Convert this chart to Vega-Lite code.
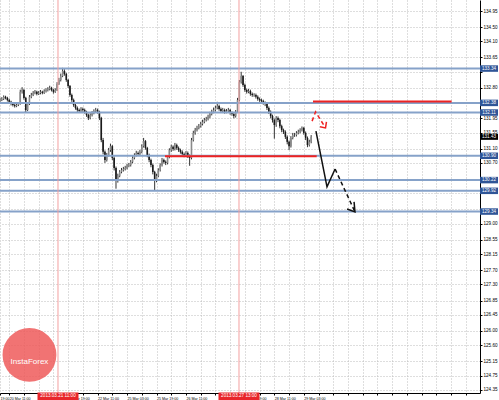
{
"$schema":"https://vega.github.io/schema/vega-lite/v6.json",
"width":480,"height":393,
"autosize":{"type":"none"},
"padding":{"left":0,"top":0,"right":19,"bottom":7},
"background":"white",
"config":{"view":{"stroke":null},"axis":{"labelFont":"Liberation Sans","labelFontSize":4.6,"labelColor":"#000","domainColor":"#000","tickColor":"#000","gridColor":"#bdbdbd","gridDash":[1,2],"gridWidth":1}},
"datasets":{
"candles":[
{"t":0,"o":132.43,"h":132.52,"l":132.40,"c":132.46},{"t":1,"o":132.46,"h":132.54,"l":132.43,"c":132.49},{"t":2,"o":132.49,"h":132.59,"l":132.46,"c":132.55},{"t":3,"o":132.55,"h":132.58,"l":132.48,"c":132.52},{"t":4,"o":132.52,"h":132.55,"l":132.42,"c":132.46},{"t":5,"o":132.46,"h":132.50,"l":132.37,"c":132.41},{"t":6,"o":132.41,"h":132.44,"l":132.31,"c":132.35},{"t":7,"o":132.35,"h":132.39,"l":132.28,"c":132.32},{"t":8,"o":132.32,"h":132.36,"l":132.25,"c":132.29},{"t":9,"o":132.29,"h":132.37,"l":132.26,"c":132.32},
{"t":10,"o":132.32,"h":132.40,"l":132.29,"c":132.35},{"t":11,"o":132.35,"h":132.75,"l":132.33,"c":132.69},{"t":12,"o":132.69,"h":132.82,"l":132.64,"c":132.74},{"t":13,"o":132.74,"h":132.77,"l":132.47,"c":132.52},{"t":14,"o":132.52,"h":132.55,"l":132.12,"c":132.18},{"t":15,"o":132.18,"h":132.40,"l":132.15,"c":132.35},{"t":16,"o":132.35,"h":132.60,"l":132.32,"c":132.55},{"t":17,"o":132.55,"h":132.66,"l":132.51,"c":132.60},{"t":18,"o":132.60,"h":132.71,"l":132.57,"c":132.66},{"t":19,"o":132.66,"h":132.74,"l":132.62,"c":132.69},
{"t":20,"o":132.69,"h":132.72,"l":132.59,"c":132.63},{"t":21,"o":132.63,"h":132.71,"l":132.60,"c":132.66},{"t":22,"o":132.66,"h":132.74,"l":132.62,"c":132.69},{"t":23,"o":132.69,"h":132.72,"l":132.62,"c":132.66},{"t":24,"o":132.66,"h":132.76,"l":132.63,"c":132.71},{"t":25,"o":132.71,"h":132.79,"l":132.67,"c":132.74},{"t":26,"o":132.74,"h":132.82,"l":132.70,"c":132.77},{"t":27,"o":132.77,"h":132.86,"l":132.73,"c":132.80},{"t":28,"o":132.80,"h":132.83,"l":132.70,"c":132.74},{"t":29,"o":132.74,"h":132.77,"l":132.64,"c":132.69},
{"t":30,"o":132.69,"h":132.79,"l":132.66,"c":132.74},{"t":31,"o":132.74,"h":132.96,"l":132.71,"c":132.91},{"t":32,"o":132.91,"h":133.08,"l":132.88,"c":133.02},{"t":33,"o":133.02,"h":133.20,"l":132.98,"c":133.13},{"t":34,"o":133.13,"h":133.36,"l":133.10,"c":133.27},{"t":35,"o":133.27,"h":133.32,"l":133.14,"c":133.19},{"t":36,"o":133.19,"h":133.22,"l":132.97,"c":133.02},{"t":37,"o":133.02,"h":133.05,"l":132.80,"c":132.85},{"t":38,"o":132.85,"h":132.88,"l":132.55,"c":132.60},{"t":39,"o":132.60,"h":132.64,"l":132.41,"c":132.46},
{"t":40,"o":132.46,"h":132.50,"l":132.27,"c":132.32},{"t":41,"o":132.32,"h":132.36,"l":132.19,"c":132.24},{"t":42,"o":132.24,"h":132.28,"l":132.13,"c":132.18},{"t":43,"o":132.18,"h":132.22,"l":132.10,"c":132.15},{"t":44,"o":132.15,"h":132.26,"l":132.11,"c":132.21},{"t":45,"o":132.21,"h":132.25,"l":132.13,"c":132.18},{"t":46,"o":132.18,"h":132.22,"l":132.08,"c":132.13},{"t":47,"o":132.13,"h":132.16,"l":131.99,"c":132.04},{"t":48,"o":132.04,"h":132.08,"l":131.90,"c":131.96},{"t":49,"o":131.96,"h":132.09,"l":131.92,"c":132.04},
{"t":50,"o":132.04,"h":132.15,"l":132.00,"c":132.10},{"t":51,"o":132.10,"h":132.20,"l":132.06,"c":132.15},{"t":52,"o":132.15,"h":132.24,"l":132.11,"c":132.18},{"t":53,"o":132.18,"h":132.22,"l":132.08,"c":132.13},{"t":54,"o":132.13,"h":132.16,"l":131.90,"c":131.96},{"t":55,"o":131.96,"h":131.99,"l":131.28,"c":131.34},{"t":56,"o":131.34,"h":131.40,"l":130.94,"c":131.01},{"t":57,"o":131.01,"h":131.05,"l":130.70,"c":130.78},{"t":58,"o":130.78,"h":130.98,"l":130.74,"c":130.92},{"t":59,"o":130.92,"h":131.12,"l":130.88,"c":131.06},
{"t":60,"o":131.06,"h":131.24,"l":131.01,"c":131.17},{"t":61,"o":131.17,"h":131.20,"l":130.78,"c":130.84},{"t":62,"o":130.84,"h":130.88,"l":130.49,"c":130.56},{"t":63,"o":130.56,"h":130.60,"l":129.98,"c":130.22},{"t":64,"o":130.22,"h":130.40,"l":130.15,"c":130.34},{"t":65,"o":130.34,"h":130.50,"l":130.30,"c":130.45},{"t":66,"o":130.45,"h":130.56,"l":130.41,"c":130.50},{"t":67,"o":130.50,"h":130.59,"l":130.46,"c":130.53},{"t":68,"o":130.53,"h":130.62,"l":130.49,"c":130.56},{"t":69,"o":130.56,"h":130.67,"l":130.52,"c":130.62},
{"t":70,"o":130.62,"h":130.70,"l":130.58,"c":130.64},{"t":71,"o":130.64,"h":130.78,"l":130.60,"c":130.73},{"t":72,"o":130.73,"h":130.89,"l":130.69,"c":130.84},{"t":73,"o":130.84,"h":130.97,"l":130.80,"c":130.92},{"t":74,"o":130.92,"h":131.04,"l":130.88,"c":130.98},{"t":75,"o":130.98,"h":131.02,"l":130.90,"c":130.95},{"t":76,"o":130.95,"h":131.07,"l":130.91,"c":131.01},{"t":77,"o":131.01,"h":131.22,"l":130.97,"c":131.17},{"t":78,"o":131.17,"h":131.40,"l":131.13,"c":131.31},{"t":79,"o":131.31,"h":131.34,"l":131.07,"c":131.12},
{"t":80,"o":131.12,"h":131.15,"l":130.86,"c":130.92},{"t":81,"o":130.92,"h":130.96,"l":130.72,"c":130.78},{"t":82,"o":130.78,"h":130.82,"l":130.58,"c":130.64},{"t":83,"o":130.64,"h":130.68,"l":130.38,"c":130.45},{"t":84,"o":130.45,"h":130.48,"l":129.94,"c":130.22},{"t":85,"o":130.22,"h":130.40,"l":130.16,"c":130.34},{"t":86,"o":130.34,"h":130.55,"l":130.30,"c":130.50},{"t":87,"o":130.50,"h":130.69,"l":130.46,"c":130.64},{"t":88,"o":130.64,"h":130.84,"l":130.60,"c":130.78},{"t":89,"o":130.78,"h":130.82,"l":130.68,"c":130.73},
{"t":90,"o":130.73,"h":130.77,"l":130.64,"c":130.70},{"t":91,"o":130.70,"h":130.92,"l":130.66,"c":130.87},{"t":92,"o":130.87,"h":131.11,"l":130.83,"c":131.06},{"t":93,"o":131.06,"h":131.21,"l":131.01,"c":131.15},{"t":94,"o":131.15,"h":131.19,"l":131.04,"c":131.09},{"t":95,"o":131.09,"h":131.26,"l":131.05,"c":131.20},{"t":96,"o":131.20,"h":131.24,"l":131.07,"c":131.12},{"t":97,"o":131.12,"h":131.16,"l":131.01,"c":131.06},{"t":98,"o":131.06,"h":131.10,"l":130.96,"c":131.01},{"t":99,"o":131.01,"h":131.05,"l":130.90,"c":130.95},
{"t":100,"o":130.95,"h":130.99,"l":130.86,"c":130.92},{"t":101,"o":130.92,"h":131.03,"l":130.88,"c":130.98},{"t":102,"o":130.98,"h":131.02,"l":130.84,"c":130.90},{"t":103,"o":130.90,"h":130.94,"l":130.62,"c":130.84},{"t":104,"o":130.84,"h":131.40,"l":130.80,"c":131.34},{"t":105,"o":131.34,"h":131.60,"l":131.30,"c":131.54},{"t":106,"o":131.54,"h":131.68,"l":131.49,"c":131.62},{"t":107,"o":131.62,"h":131.74,"l":131.58,"c":131.68},{"t":108,"o":131.68,"h":131.79,"l":131.64,"c":131.73},{"t":109,"o":131.73,"h":131.85,"l":131.69,"c":131.79},
{"t":110,"o":131.79,"h":131.91,"l":131.75,"c":131.85},{"t":111,"o":131.85,"h":131.96,"l":131.81,"c":131.90},{"t":112,"o":131.90,"h":131.99,"l":131.86,"c":131.93},{"t":113,"o":131.93,"h":132.05,"l":131.89,"c":131.99},{"t":114,"o":131.99,"h":132.13,"l":131.95,"c":132.07},{"t":115,"o":132.07,"h":132.19,"l":132.03,"c":132.13},{"t":116,"o":132.13,"h":132.25,"l":132.09,"c":132.18},{"t":117,"o":132.18,"h":132.30,"l":132.14,"c":132.24},{"t":118,"o":132.24,"h":132.41,"l":132.20,"c":132.29},{"t":119,"o":132.29,"h":132.33,"l":132.16,"c":132.21},
{"t":120,"o":132.21,"h":132.25,"l":132.10,"c":132.15},{"t":121,"o":132.15,"h":132.24,"l":132.11,"c":132.18},{"t":122,"o":132.18,"h":132.22,"l":132.08,"c":132.13},{"t":123,"o":132.13,"h":132.21,"l":132.09,"c":132.15},{"t":124,"o":132.15,"h":132.24,"l":132.11,"c":132.18},{"t":125,"o":132.18,"h":132.21,"l":132.05,"c":132.10},{"t":126,"o":132.10,"h":132.14,"l":132.02,"c":132.07},{"t":127,"o":132.07,"h":132.11,"l":131.95,"c":132.01},{"t":128,"o":132.01,"h":132.18,"l":131.97,"c":132.13},{"t":129,"o":132.13,"h":132.52,"l":132.10,"c":132.46},
{"t":130,"o":132.46,"h":133.02,"l":132.42,"c":132.96},{"t":131,"o":132.96,"h":133.25,"l":132.92,"c":133.13},{"t":132,"o":133.13,"h":133.16,"l":132.83,"c":132.88},{"t":133,"o":132.88,"h":132.92,"l":132.69,"c":132.74},{"t":134,"o":132.74,"h":132.78,"l":132.64,"c":132.69},{"t":135,"o":132.69,"h":132.77,"l":132.65,"c":132.71},{"t":136,"o":132.71,"h":132.75,"l":132.58,"c":132.63},{"t":137,"o":132.63,"h":132.67,"l":132.55,"c":132.60},{"t":138,"o":132.60,"h":132.65,"l":132.55,"c":132.60},{"t":139,"o":132.60,"h":132.64,"l":132.50,"c":132.55},
{"t":140,"o":132.55,"h":132.59,"l":132.44,"c":132.49},{"t":141,"o":132.49,"h":132.53,"l":132.41,"c":132.46},{"t":142,"o":132.46,"h":132.50,"l":132.38,"c":132.43},{"t":143,"o":132.43,"h":132.47,"l":132.33,"c":132.38},{"t":144,"o":132.38,"h":132.42,"l":132.29,"c":132.35},{"t":145,"o":132.35,"h":132.39,"l":132.18,"c":132.24},{"t":146,"o":132.24,"h":132.28,"l":132.07,"c":132.13},{"t":147,"o":132.13,"h":132.17,"l":131.95,"c":132.01},{"t":148,"o":132.01,"h":132.05,"l":131.83,"c":131.90},{"t":149,"o":131.90,"h":131.94,"l":131.38,"c":131.76},
{"t":150,"o":131.76,"h":132.01,"l":131.71,"c":131.96},{"t":151,"o":131.96,"h":132.00,"l":131.84,"c":131.90},{"t":152,"o":131.90,"h":131.94,"l":131.67,"c":131.73},{"t":153,"o":131.73,"h":131.77,"l":131.56,"c":131.62},{"t":154,"o":131.62,"h":131.66,"l":131.51,"c":131.57},{"t":155,"o":131.57,"h":131.61,"l":131.37,"c":131.43},{"t":156,"o":131.43,"h":131.47,"l":131.22,"c":131.29},{"t":157,"o":131.29,"h":131.33,"l":131.06,"c":131.17},{"t":158,"o":131.17,"h":131.45,"l":131.13,"c":131.40},{"t":159,"o":131.40,"h":131.54,"l":131.36,"c":131.48},
{"t":160,"o":131.48,"h":131.54,"l":131.43,"c":131.48},{"t":161,"o":131.48,"h":131.59,"l":131.44,"c":131.54},{"t":162,"o":131.54,"h":131.63,"l":131.50,"c":131.57},{"t":163,"o":131.57,"h":131.67,"l":131.53,"c":131.62},{"t":164,"o":131.62,"h":131.72,"l":131.58,"c":131.68},{"t":165,"o":131.68,"h":131.71,"l":131.49,"c":131.54},{"t":166,"o":131.54,"h":131.58,"l":131.34,"c":131.40},{"t":167,"o":131.40,"h":131.44,"l":131.14,"c":131.20},{"t":168,"o":131.20,"h":131.35,"l":131.16,"c":131.29},{"t":169,"o":131.29,"h":131.48,"l":131.25,"c":131.43}
],
"levels":[{"p":133.34},{"p":132.38},{"p":132.11},{"p":130.90},{"p":130.22},{"p":129.92},{"p":129.34}],
"redlevels":[{"t1":170,"t2":245.3,"p":132.42},{"t1":89.6,"t2":172,"p":130.89}],
"vlines":[{"t":31.5,"label":"2013.03.21 11:00"},{"t":129.8,"label":"2013.03.27 13:00"}],
"paths":[
{"seg":"redDash","k":0,"t":169.5,"p":131.87},{"seg":"redDash","k":1,"t":171.4,"p":132.13},{"seg":"redDash","k":2,"t":176.8,"p":131.68},
{"seg":"redHead","k":0,"t":173.8,"p":131.71},{"seg":"redHead","k":1,"t":176.8,"p":131.68},{"seg":"redHead","k":2,"t":177.3,"p":131.85},
{"seg":"blackSolid","k":0,"t":171.6,"p":131.59},{"seg":"blackSolid","k":1,"t":177.6,"p":130.03},{"seg":"blackSolid","k":2,"t":182.0,"p":130.53},
{"seg":"blackDash","k":0,"t":182.0,"p":130.53},{"seg":"blackDash","k":1,"t":192.8,"p":129.33},
{"seg":"blackHead","k":0,"t":188.5,"p":129.41},{"seg":"blackHead","k":1,"t":192.8,"p":129.33},{"seg":"blackHead","k":2,"t":192.3,"p":129.61}
],
"current":[{"p":131.43}]
},
"layer":[
{"data":{"name":"candles"},"mark":{"type":"rule","strokeWidth":1,"color":"#333"},
 "encoding":{
  "x":{"field":"t","type":"quantitative","scale":{"domain":[0,260.7],"nice":false,"zero":false},
   "axis":{"title":null,"orient":"bottom","tickCount":1000,"values":[0,5,13,21,29,37,45,53,61,69,77,85,93,101,109,117,125,133,141,149,157,165,173,181,189,197,205,213,221,229,237,245,253],
    "labelExpr":"datum.value==0?'19:00':datum.value==5?'20 Mar 11:00':datum.value==37?'21 Mar 19:00':datum.value==53?'22 Mar 11:00':datum.value==69?'25 Mar 03:00':datum.value==85?'25 Mar 19:00':datum.value==101?'26 Mar 11:00':datum.value==133?'27 Mar 19:00':datum.value==149?'28 Mar 11:00':datum.value==165?'29 Mar 03:00':''",
    "labelFontSize":3.6,"labelAlign":"left","labelDx":1,"labelPadding":1.5,"tickSize":2,"labelOverlap":false,"labelBound":false,"labelFlush":false,"grid":true,"domainWidth":1}},
  "y":{"field":"l","type":"quantitative","scale":{"domain":[124.265,135.258],"nice":false,"zero":false},
   "axis":{"title":null,"orient":"right","tickCount":1000,"values":[134.95,134.5,134.1,133.65,133.25,132.8,132.4,131.95,131.55,131.1,130.7,130.25,129.85,129.4,129.0,128.55,128.15,127.7,127.3,126.85,126.45,126.0,125.6,125.15,124.75,124.35],
    "labelExpr":"(datum.value==133.25||datum.value==132.4||datum.value==130.25||datum.value==129.85||datum.value==129.4)?'':format(datum.value,'.2f')",
    "labelPadding":1,"tickSize":2,"labelOverlap":false,"labelBound":false,"labelFlush":false,"grid":true,"domainWidth":1}},
  "y2":{"field":"h"}}},
{"data":{"name":"candles"},"mark":{"type":"rule","strokeWidth":1.6},
 "encoding":{"x":{"field":"t","type":"quantitative"},"y":{"field":"o","type":"quantitative"},"y2":{"field":"c"},
  "color":{"condition":{"test":"datum.c >= datum.o","value":"#8a8a8a"},"value":"#1a1a1a"}}},
{"data":{"name":"levels"},"mark":{"type":"rule","strokeWidth":2,"color":"#86a2c9"},
 "encoding":{"y":{"field":"p","type":"quantitative"}}},
{"data":{"name":"vlines"},"mark":{"type":"rule","strokeWidth":1,"color":"#f3a0a0"},
 "encoding":{"x":{"field":"t","type":"quantitative"}}},
{"data":{"name":"redlevels"},"mark":{"type":"rule","strokeWidth":2,"color":"#ee2222"},
 "encoding":{"x":{"field":"t1","type":"quantitative"},"x2":{"field":"t2"},"y":{"field":"p","type":"quantitative"}}},
{"data":{"name":"paths"},"transform":[{"filter":"datum.seg=='redDash'"}],"mark":{"type":"line","strokeWidth":1.5,"color":"#ee2222","strokeDash":[4,3]},
 "encoding":{"x":{"field":"t","type":"quantitative"},"y":{"field":"p","type":"quantitative"},"order":{"field":"k"}}},
{"data":{"name":"paths"},"transform":[{"filter":"datum.seg=='redHead'"}],"mark":{"type":"line","strokeWidth":1.5,"color":"#ee2222"},
 "encoding":{"x":{"field":"t","type":"quantitative"},"y":{"field":"p","type":"quantitative"},"order":{"field":"k"}}},
{"data":{"name":"paths"},"transform":[{"filter":"datum.seg=='blackSolid' || datum.seg=='blackHead'"}],"mark":{"type":"line","strokeWidth":1.5,"color":"#111"},
 "encoding":{"x":{"field":"t","type":"quantitative"},"y":{"field":"p","type":"quantitative"},"detail":{"field":"seg"},"order":{"field":"k"}}},
{"data":{"name":"paths"},"transform":[{"filter":"datum.seg=='blackDash'"}],"mark":{"type":"line","strokeWidth":1.5,"color":"#111","strokeDash":[4,3]},
 "encoding":{"x":{"field":"t","type":"quantitative"},"y":{"field":"p","type":"quantitative"},"order":{"field":"k"}}},
{"data":{"name":"levels"},"mark":{"type":"tick","orient":"horizontal","thickness":6.5,"size":18,"color":"#2f5597","opacity":1},
 "encoding":{"x":{"datum":265.6,"type":"quantitative"},"y":{"field":"p","type":"quantitative"}}},
{"data":{"name":"levels"},"mark":{"type":"text","fontSize":4.6,"font":"Liberation Sans","color":"white","align":"center","baseline":"middle"},
 "encoding":{"x":{"datum":265.6,"type":"quantitative"},"y":{"field":"p","type":"quantitative"},"text":{"field":"p","format":".2f"}}},
{"data":{"name":"current"},"mark":{"type":"tick","orient":"horizontal","thickness":6,"size":18,"color":"#000","opacity":1},
 "encoding":{"x":{"datum":265.6,"type":"quantitative"},"y":{"field":"p","type":"quantitative"}}},
{"data":{"name":"current"},"mark":{"type":"text","fontSize":4.6,"font":"Liberation Sans","color":"white","align":"center","baseline":"middle"},
 "encoding":{"x":{"datum":265.6,"type":"quantitative"},"y":{"field":"p","type":"quantitative"},"text":{"field":"p","format":".2f"}}},
{"data":{"name":"vlines"},"mark":{"type":"tick","orient":"horizontal","thickness":8,"size":41,"color":"#e8262b","opacity":1},
 "encoding":{"x":{"field":"t","type":"quantitative"},"y":{"datum":124.168,"type":"quantitative"}}},
{"data":{"name":"vlines"},"mark":{"type":"text","fontSize":4.6,"font":"Liberation Sans","color":"white","align":"center","baseline":"middle"},
 "encoding":{"x":{"field":"t","type":"quantitative"},"y":{"datum":124.168,"type":"quantitative"},"text":{"field":"label"}}},
{"data":{"values":[{"name":"InstaForex"}]},"mark":{"type":"point","shape":"circle","filled":true,"size":2900,"color":"#ef5a5a","opacity":0.85},
 "encoding":{"x":{"datum":16.0,"type":"quantitative"},"y":{"datum":125.33,"type":"quantitative"}}},
{"data":{"values":[{"name":"InstaForex"}]},"mark":{"type":"text","fontSize":8,"font":"Liberation Sans","color":"white","align":"center","baseline":"middle"},
 "encoding":{"x":{"datum":16.0,"type":"quantitative"},"y":{"datum":125.12,"type":"quantitative"},"text":{"field":"name"}}}
]
}
